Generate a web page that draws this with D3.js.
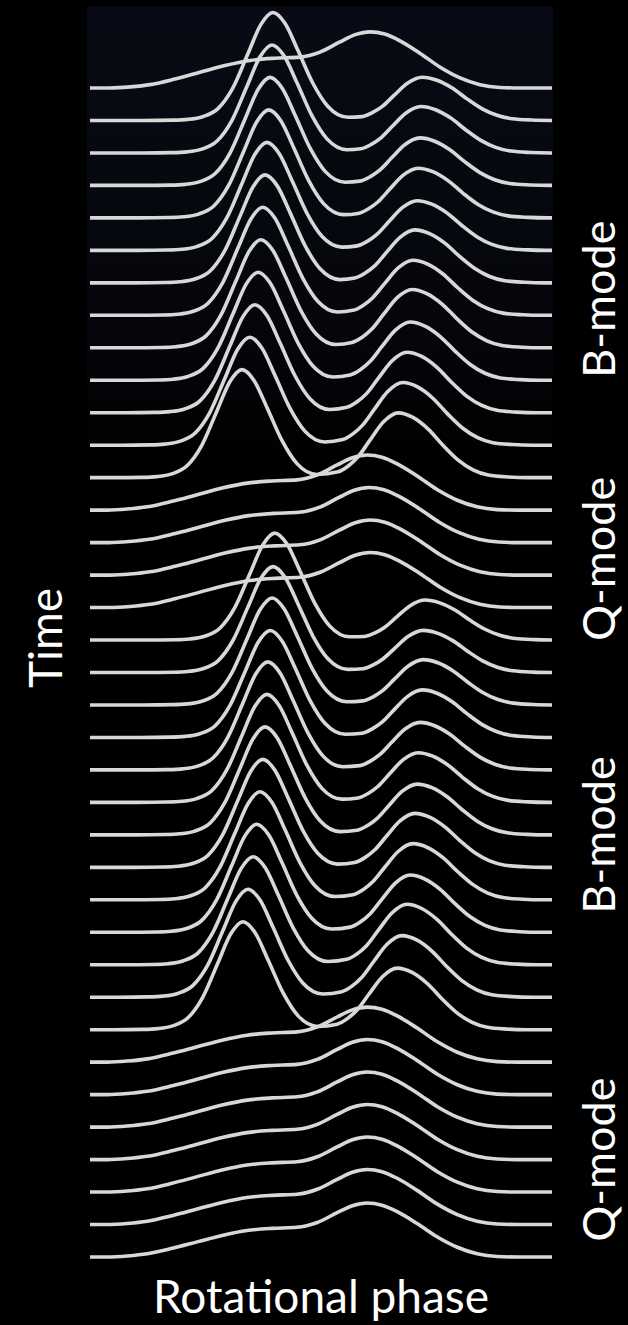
<!DOCTYPE html>
<html>
<head>
<meta charset="utf-8">
<script src="https://cdn.jsdelivr.net/npm/d3@7"></script>
<style>
  html, body { margin: 0; padding: 0; background: #000; }
  svg { display: block; }
</style>
</head>
<body>
<svg id="chart"></svg>
<script>
const width = 628, height = 1325;

// mode of each single pulse, top (earliest) to bottom
const modes = [
  "Q",
  "B", "B", "B", "B", "B", "B", "B", "B", "B", "B", "B", "B",
  "Q", "Q", "Q", "Q",
  "B", "B", "B", "B", "B", "B", "B", "B", "B", "B", "B", "B", "B",
  "Q", "Q", "Q", "Q", "Q", "Q", "Q"
];

// B-mode pulses: leading (main) and trailing components, phase and intensity
const bMainPhase = [0.396, 0.394, 0.390, 0.387, 0.383, 0.379, 0.374, 0.370, 0.364, 0.357, 0.346, 0.329,
                    0.400, 0.396, 0.394, 0.390, 0.385, 0.383, 0.379, 0.374, 0.368, 0.361, 0.353, 0.342, 0.331];
const bMainAmp = [1, 1, 1, 1, 1, 1, 1, 1, 1, 1, 1, 1,
                  0.99, 0.98, 0.99, 0.99, 1, 1, 1, 1, 1, 1, 1, 1, 1];
const bTrailPhase = [0.719, 0.716, 0.714, 0.710, 0.708, 0.703, 0.699, 0.697, 0.693, 0.686, 0.677, 0.667,
                     0.725, 0.721, 0.721, 0.719, 0.714, 0.710, 0.708, 0.703, 0.699, 0.693, 0.686, 0.675, 0.665];
const bTrailAmp = [0.40, 0.43, 0.44, 0.46, 0.46, 0.49, 0.51, 0.54, 0.54, 0.56, 0.58, 0.60,
                   0.37, 0.39, 0.42, 0.44, 0.44, 0.46, 0.47, 0.50, 0.52, 0.53, 0.56, 0.57, 0.57];

// Q-mode pulses: phase and intensity of the broad peak
const qPeakPhase = [0.606, 0.600, 0.604, 0.606, 0.606, 0.600, 0.600, 0.600, 0.600, 0.600, 0.600, 0.600];
const qPeakAmp = [0.52, 0.51, 0.51, 0.51, 0.51, 0.51, 0.51, 0.51, 0.51, 0.51, 0.51, 0.50];

// component shapes: [phase offset from peak, normalised intensity]
const bMainShape = [[-0.281, 0], [-0.216, 0.003], [-0.184, 0.01], [-0.152, 0.035], [-0.119, 0.11],
  [-0.087, 0.30], [-0.054, 0.62], [-0.026, 0.89], [0, 1], [0.026, 0.90], [0.054, 0.65],
  [0.087, 0.34], [0.119, 0.13], [0.162, 0.03]];
const bTrailShape = [[-0.130, 0.09], [-0.108, 0.18], [-0.087, 0.32], [-0.061, 0.58], [-0.032, 0.86],
  [0, 1], [0.032, 0.93], [0.065, 0.75], [0.097, 0.50], [0.130, 0.27], [0.162, 0.12],
  [0.195, 0.04], [0.238, 0.01], [0.281, 0]];
const qShape = [[-0.563, 0], [-0.519, 0.02], [-0.476, 0.06], [-0.422, 0.16], [-0.368, 0.28],
  [-0.314, 0.40], [-0.260, 0.49], [-0.206, 0.53], [-0.152, 0.55], [-0.108, 0.64], [-0.065, 0.82],
  [-0.032, 0.95], [0, 1], [0.032, 0.96], [0.065, 0.84], [0.108, 0.62], [0.152, 0.37],
  [0.195, 0.18], [0.238, 0.06], [0.281, 0.01], [0.325, 0]];

const modeLabels = ["B-mode", "Q-mode", "B-mode", "Q-mode"];

const svg = d3.select("#chart")
    .attr("width", width)
    .attr("height", height)
    .style("background", "#000");

const x = d3.scaleLinear().domain([0, 1]).range([90, 552]);
const y = d3.scaleLinear().domain([0, modes.length - 1]).range([88, 1257]);
const amp = d3.scaleLinear().domain([0, 1]).range([0, 108]);

// faint night-sky photo behind the top of the stack
const defs = svg.append("defs");
const sky = defs.append("linearGradient")
    .attr("id", "sky")
    .attr("x1", 0).attr("y1", 0).attr("x2", 0).attr("y2", 1);
sky.append("stop").attr("offset", "0%").attr("stop-color", "#080b15");
sky.append("stop").attr("offset", "70%").attr("stop-color", "#04060b");
sky.append("stop").attr("offset", "100%").attr("stop-color", "#000");
svg.append("rect")
    .attr("x", 87).attr("y", 6)
    .attr("width", 466).attr("height", 460)
    .attr("fill", "url(#sky)");

// build the profile of every pulse
let bi = 0, qi = 0;
const pulses = modes.map((m, i) => {
  let pts = [];
  if (m === "B") {
    bMainShape.forEach(([o, v]) => pts.push([bMainPhase[bi] + o, bMainAmp[bi] * v]));
    bTrailShape.forEach(([o, v]) => pts.push([bTrailPhase[bi] + o, bTrailAmp[bi] * v]));
    bi++;
  } else {
    qShape.forEach(([o, v]) => pts.push([qPeakPhase[qi] + o, qPeakAmp[qi] * v]));
    qi++;
  }
  pts = pts.filter(d => d[0] > 0 && d[0] < 1);
  return {index: i, mode: m, points: [[0, 0], ...pts, [1, 0]]};
});

const line = d3.line()
    .x(d => x(d[0]))
    .y(d => d.base - amp(d[1]))
    .curve(d3.curveMonotoneX);

svg.append("g")
    .selectAll("path")
    .data(pulses)
    .join("path")
    .attr("d", p => line(p.points.map(d => Object.assign([d[0], d[1]], {base: y(p.index)}))))
    .attr("fill", "none")
    .attr("stroke", "#d8d8d8")
    .attr("stroke-width", 3.6);

// mode labels on the right, centred on each run of pulses
const runs = [];
modes.forEach((m, i) => {
  if (i === 0 || m !== modes[i - 1]) runs.push({mode: m, start: i, end: i});
  else runs[runs.length - 1].end = i;
});
const labelRuns = runs.filter(r => r.end > r.start);

const font = "'Gill Sans', 'Gill Sans MT', Lato, sans-serif";

svg.append("g")
    .selectAll("text")
    .data(labelRuns)
    .join("text")
    .attr("transform", r => `translate(615,${y((r.start + r.end) / 2)}) rotate(-90)`)
    .attr("text-anchor", "middle")
    .attr("fill", "#fff")
    .style("font", `45px ${font}`)
    .text((r, i) => modeLabels[i]);

svg.append("text")
    .attr("transform", `translate(62,638) rotate(-90)`)
    .attr("text-anchor", "middle")
    .attr("fill", "#fff")
    .style("font", `46px ${font}`)
    .text("Time");

svg.append("text")
    .attr("x", (x(0) + x(1)) / 2)
    .attr("y", 1313)
    .attr("text-anchor", "middle")
    .attr("fill", "#fff")
    .style("font", `46px ${font}`)
    .text("Rotational phase");
</script>
</body>
</html>
